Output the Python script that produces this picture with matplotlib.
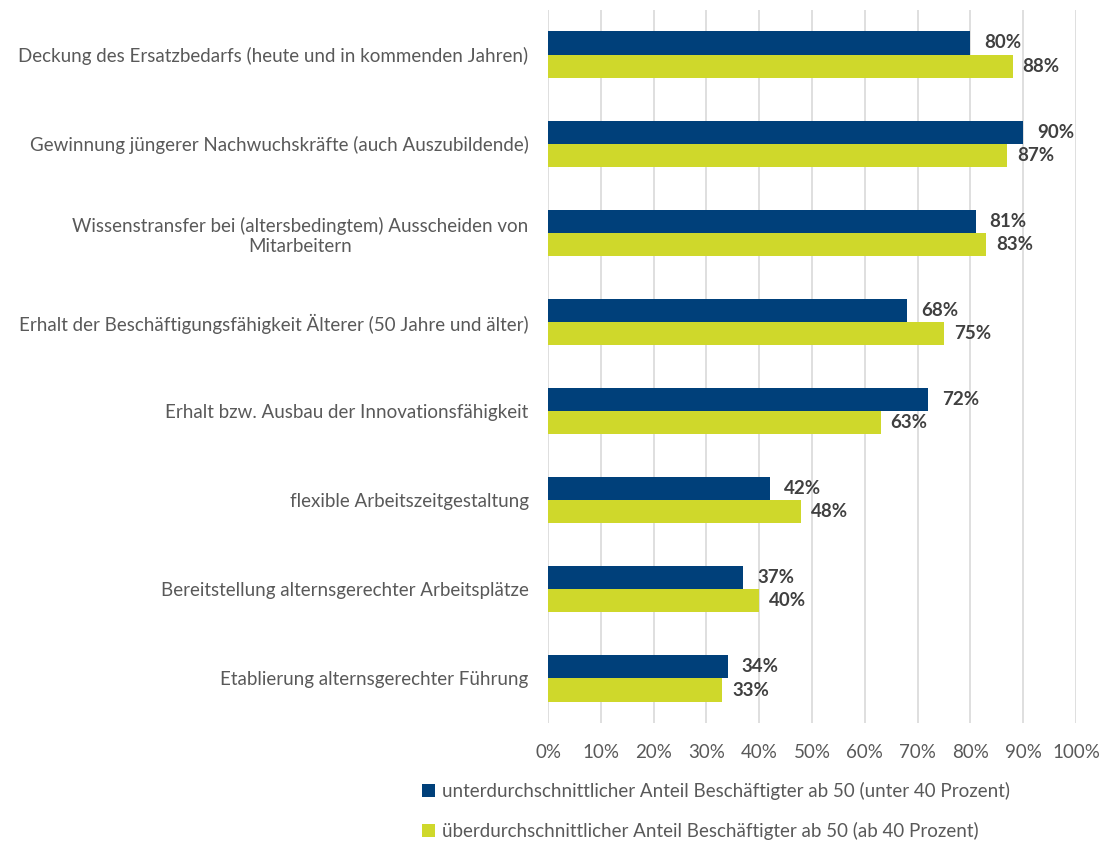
import matplotlib
matplotlib.use("Agg")
import matplotlib.pyplot as plt
from matplotlib.patches import Patch
import numpy as np

categories = [
    "Deckung des Ersatzbedarfs (heute und in kommenden Jahren)",
    "Gewinnung jüngerer Nachwuchskräfte (auch Auszubildende)",
    "Wissenstransfer bei (altersbedingtem) Ausscheiden von\nMitarbeitern",
    "Erhalt der Beschäftigungsfähigkeit Älterer (50 Jahre und älter)",
    "Erhalt bzw. Ausbau der Innovationsfähigkeit",
    "flexible Arbeitszeitgestaltung",
    "Bereitstellung alternsgerechter Arbeitsplätze",
    "Etablierung alternsgerechter Führung",
]
below_avg = [80, 90, 81, 68, 72, 42, 37, 34]
above_avg = [88, 87, 83, 75, 63, 48, 40, 33]
series_names = [
    "unterdurchschnittlicher Anteil Beschäftigter ab 50 (unter 40 Prozent)",
    "überdurchschnittlicher Anteil Beschäftigter ab 50 (ab 40 Prozent)",
]
xticks = list(range(0, 101, 10))

BLUE = "#00407A"
GREEN = "#CFD82B"
GRAY = "#595959"

plt.rcParams["font.family"] = ["Lato", "DejaVu Sans"]

fig = plt.figure(figsize=(11.05, 8.44), dpi=100)
ax = fig.add_axes([548 / 1105, 1 - 723 / 844, 528 / 1105, 713 / 844])

y = np.arange(len(categories))
h = 0.26
ax.barh(y - h / 2, below_avg, height=h, color=BLUE, zorder=3)
ax.barh(y + h / 2, above_avg, height=h, color=GREEN, zorder=3)

# value labels, bold, just right of each bar
for yi, v in zip(y - h / 2, below_avg):
    ax.annotate(f"{v}%", (v, yi), xytext=(10, 0), textcoords="offset points",
                va="center", ha="left", fontsize=13.5, fontweight="bold", color="#404040")
for yi, v in zip(y + h / 2, above_avg):
    ax.annotate(f"{v}%", (v, yi), xytext=(7, 0), textcoords="offset points",
                va="center", ha="left", fontsize=13.5, fontweight="bold", color="#404040")

ax.set_xlim(0, 100)
ax.set_ylim(len(categories) - 0.5, -0.5)
ax.set_xticks(xticks)
ax.set_xticklabels([f"{t}%" for t in xticks], color=GRAY, fontsize=13.5)
ax.set_yticks(y)
ax.set_yticklabels(categories, color=GRAY, fontsize=13.5, multialignment="center")
ax.tick_params(length=0)
ax.tick_params(axis="x", pad=15)
ax.tick_params(axis="y", pad=14)
ax.grid(axis="x", color="#D9D9D9", linewidth=1.2, zorder=0)
for s in ax.spines.values():
    s.set_visible(False)

handles = [Patch(facecolor=BLUE), Patch(facecolor=GREEN)]
leg = fig.legend(handles, series_names, loc="center", bbox_to_anchor=(716 / 1105, 1 - 811 / 844),
                 frameon=False, fontsize=13.5, handlelength=0.7, handleheight=0.7,
                 handletextpad=0.35, labelspacing=1.15)
for t in leg.get_texts():
    t.set_color(GRAY)

fig.savefig("out.png", dpi=100)
